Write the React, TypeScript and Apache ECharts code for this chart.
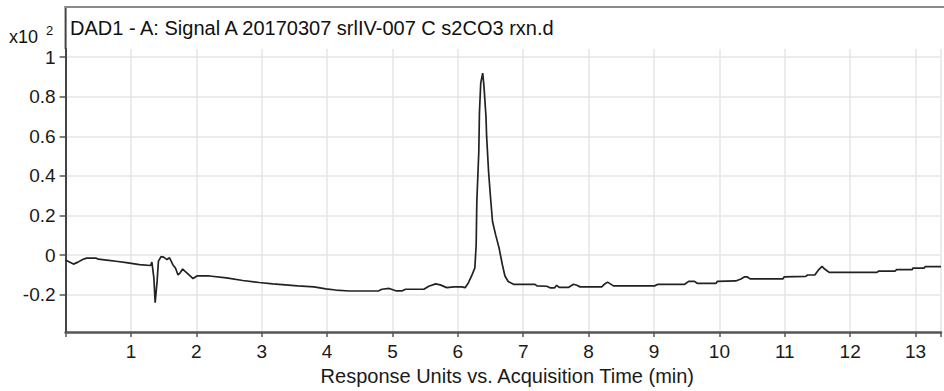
import React, { useEffect, useRef } from "react";
import * as echarts from "echarts";

const timeMin: number[] = [
  0.0, 0.02, 0.12, 0.19, 0.26, 0.32, 0.47, 0.5, 0.63, 0.8, 0.93, 1.13, 1.3, 1.32, 1.35, 1.37, 1.4, 1.42,
  1.46, 1.5, 1.52, 1.55, 1.59, 1.64, 1.68, 1.72, 1.75, 1.79, 1.85, 1.95, 2.01, 2.2, 2.46, 2.71, 2.96,
  3.17, 3.55, 3.8, 3.98, 4.13, 4.34, 4.79, 4.84, 4.95, 5.05, 5.15, 5.2, 5.48, 5.555, 5.66, 5.73, 5.83,
  5.94, 6.06, 6.11, 6.16, 6.21, 6.26, 6.28, 6.29, 6.32, 6.33, 6.35, 6.38, 6.4, 6.43, 6.44, 6.47, 6.5,
  6.53, 6.58, 6.63, 6.68, 6.72, 6.77, 6.85, 7.18, 7.21, 7.36, 7.41, 7.48, 7.51, 7.55, 7.69, 7.77, 7.82,
  7.87, 8.2, 8.24, 8.29, 8.38, 9.01, 9.06, 9.47, 9.53, 9.62, 9.66, 9.95, 9.97, 10.25, 10.33, 10.38,
  10.43, 10.47, 10.97, 10.99, 11.32, 11.35, 11.46, 11.51, 11.57, 11.61, 11.68, 12.41, 12.44, 12.69,
  12.71, 12.95, 12.96, 13.13, 13.15, 13.39,
];

const signal: number[] = [
  -0.025, -0.028, -0.045, -0.035, -0.022, -0.015, -0.015, -0.02, -0.025, -0.032, -0.038, -0.048, -0.052,
  -0.035, -0.115, -0.24, -0.13, -0.03, -0.007, -0.01, -0.015, -0.022, -0.013, -0.048, -0.065, -0.1, -0.09,
  -0.07, -0.088, -0.118, -0.105, -0.105, -0.115, -0.128, -0.138, -0.145, -0.155, -0.16, -0.17, -0.176,
  -0.181, -0.18, -0.172, -0.168, -0.18, -0.18, -0.172, -0.172, -0.157, -0.145, -0.15, -0.164, -0.16,
  -0.16, -0.164, -0.14, -0.105, -0.064, 0.053, 0.27, 0.52, 0.72, 0.87, 0.92, 0.85, 0.7, 0.6, 0.42, 0.29,
  0.17, 0.1, 0.037, -0.047, -0.105, -0.133, -0.147, -0.147, -0.155, -0.157, -0.165, -0.165, -0.152,
  -0.163, -0.163, -0.147, -0.152, -0.16, -0.16, -0.147, -0.136, -0.155, -0.155, -0.147, -0.147, -0.132,
  -0.132, -0.142, -0.142, -0.132, -0.13, -0.12, -0.11, -0.11, -0.12, -0.12, -0.11, -0.107, -0.1, -0.1,
  -0.077, -0.057, -0.07, -0.087, -0.087, -0.08, -0.08, -0.073, -0.073, -0.065, -0.065, -0.058, -0.058,
];

const yTickValues: number[] = [-0.2, 0, 0.2, 0.4, 0.6, 0.8, 1];
const yTickLabels: string[] = ["-0.2", "0", "0.2", "0.4", "0.6", "0.8", "1"];

const titleText = "DAD1 - A: Signal A 20170307 srlIV-007 C s2CO3 rxn.d";
const xAxisTitle = "Response Units vs. Acquisition Time (min)";
const yScaleText = "x10";
const yScaleExp = "2";

const FONT = "'Liberation Sans', Arial, sans-serif";

export default function App() {
  const ref = useRef<HTMLDivElement>(null);

  useEffect(() => {
    if (!ref.current) return;
    const chart = echarts.init(ref.current, undefined, { renderer: "svg" });
    const left = 65.6;
    const top = 49;
    const bottomY = 335;
    chart.setOption({
      animation: false,
      backgroundColor: "#ffffff",
      grid: { left: left, right: 0, top: top, bottom: 391 - bottomY, containLabel: false },
      xAxis: {
        type: "value",
        min: 0,
        max: 13.39,
        interval: 1,
        name: xAxisTitle,
        nameLocation: "middle",
        nameGap: 31,
        nameTextStyle: { fontFamily: FONT, fontSize: 20, color: "#1a1a1a", padding: [0, 0, 0, 8] },
        axisLine: { show: true, onZero: false, lineStyle: { color: "#555555", width: 2.5 } },
        axisTick: { show: true, length: 5, lineStyle: { color: "#555555", width: 1.5 } },
        axisLabel: {
          fontFamily: FONT,
          fontSize: 19,
          color: "#1a1a1a",
          margin: 10,
          formatter: (v: number) => (v > 0 && Math.abs(v - Math.round(v)) < 1e-9 ? String(Math.round(v)) : ""),
        },
        splitLine: { show: true, lineStyle: { color: "#e6e6e6", width: 1.5 } },
      },
      yAxis: {
        type: "value",
        min: -0.3885,
        max: 1.0415,
        axisLine: { show: true, lineStyle: { color: "#444444", width: 2 } },
        axisTick: { show: true, length: 6, customValues: yTickValues, lineStyle: { color: "#555555", width: 1.5 } },
        axisLabel: {
          customValues: yTickValues,
          fontFamily: FONT,
          fontSize: 19,
          color: "#1a1a1a",
          margin: 10,
          formatter: (v: number) => {
            const i = yTickValues.findIndex((t) => Math.abs(t - v) < 1e-9);
            return i >= 0 ? yTickLabels[i] : "";
          },
        },
        splitLine: { show: true, lineStyle: { color: "#e6e6e6", width: 1.5 } },
      },
      graphic: [
        { type: "line", shape: { x1: left, y1: 6, x2: left, y2: top }, style: { stroke: "#444444", lineWidth: 2 }, z: 10 },
        { type: "line", shape: { x1: left - 1, y1: 7, x2: 944, y2: 7 }, style: { stroke: "#8a8a8a", lineWidth: 2 }, z: 10 },
        {
          type: "text",
          x: 70,
          y: 27.5,
          style: { text: titleText, font: `20px ${FONT}`, fill: "#111111", verticalAlign: "middle", align: "left" },
          z: 10,
        },
        {
          type: "text",
          x: 9,
          y: 37,
          style: { text: yScaleText, font: `18px ${FONT}`, fill: "#111111", verticalAlign: "middle", align: "left" },
          z: 10,
        },
        {
          type: "text",
          x: 46,
          y: 30,
          style: { text: yScaleExp, font: `13px ${FONT}`, fill: "#111111", verticalAlign: "middle", align: "left" },
          z: 10,
        },
      ],
      series: [
        {
          type: "line",
          data: timeMin.map((t, i) => [t, signal[i]]),
          showSymbol: false,
          symbol: "none",
          lineStyle: { color: "#222222", width: 1.7 },
          clip: true,
        },
      ],
    });
    return () => chart.dispose();
  }, []);

  return (
    <div
      ref={ref}
      style={{ position: "fixed", left: 0, top: 0, width: 944, height: 391, background: "#fff" }}
    />
  );
}
